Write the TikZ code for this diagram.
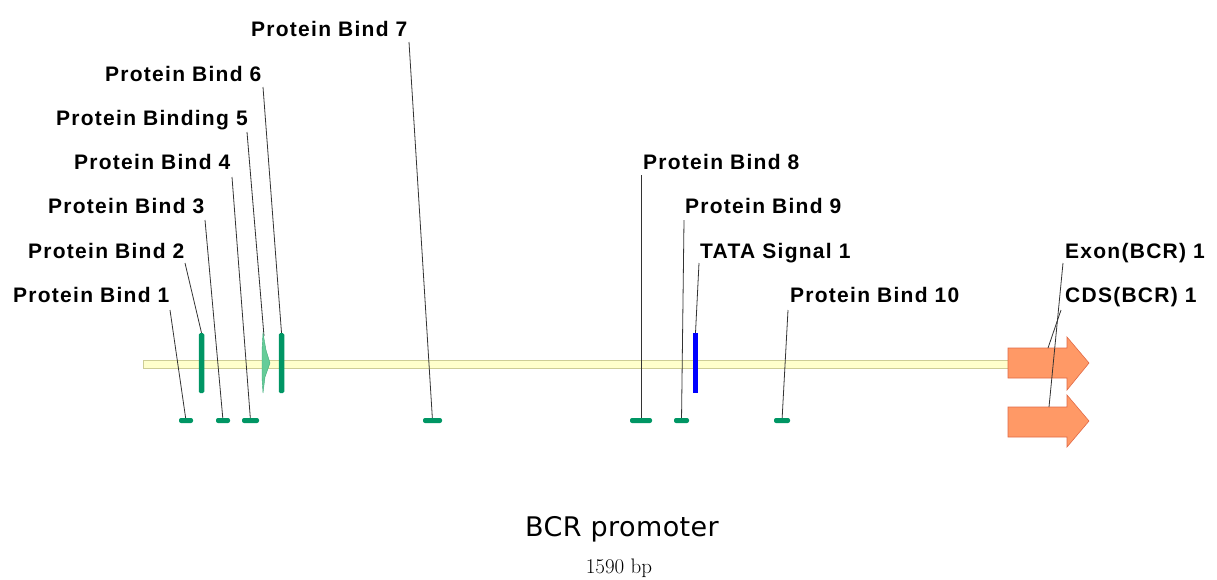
\documentclass[tikz,border=0pt]{standalone}
\usepackage{fontspec}
\usetikzlibrary{backgrounds}
\newfontfamily\labfont{Liberation Sans Bold}[LetterSpace=6]
\newfontfamily\titlefont{DejaVu Sans}[LetterSpace=1.5]
\definecolor{featgreen}{RGB}{0,150,100}
\definecolor{featlight}{RGB}{102,204,153}
\definecolor{featlightedge}{RGB}{60,170,120}
\definecolor{tatablue}{RGB}{0,0,255}
\definecolor{barfill}{RGB}{255,255,204}
\definecolor{baredge}{RGB}{205,205,150}
\definecolor{exonfill}{RGB}{255,153,102}
\definecolor{exonedge}{RGB}{225,105,70}
\pgfdeclarelayer{leaders}
\pgfsetlayers{background,leaders,main}
\tikzset{
  lab/.style={font=\labfont\fontsize{21}{25}\selectfont, anchor=base west, inner sep=0pt},
  vbar/.style={rectangle, fill=featgreen, minimum width=5.5, minimum height=60, inner sep=0pt, rounded corners=1.5},
  site/.style={rectangle, fill=featgreen, minimum height=5, inner sep=0pt, rounded corners=2},
  leader/.style={draw=black!80, line width=0.8pt},
  exonarrow/.style={fill=exonfill, draw=exonedge, line width=0.6pt, line join=miter},
}
\begin{document}
\begin{tikzpicture}[x=1pt, y=-1pt]
\useasboundingbox (0,0) rectangle (1217,579);

% sequence backbone
\begin{pgfonlayer}{background}
  \draw[fill=barfill, draw=baredge, line width=0.6pt] (143,360) rectangle (1010,368);
\end{pgfonlayer}

% feature labels
\node[lab] (l1)  at (13,302)   {Protein Bind 1};
\node[lab] (l2)  at (28,258)   {Protein Bind 2};
\node[lab] (l3)  at (48,213)   {Protein Bind 3};
\node[lab] (l4)  at (74,169)   {Protein Bind 4};
\node[lab] (l5)  at (56,125)   {Protein Binding 5};
\node[lab] (l6)  at (105,81)   {Protein Bind 6};
\node[lab] (l7)  at (251,36)   {Protein Bind 7};
\node[lab] (l8)  at (643,169)  {Protein Bind 8};
\node[lab] (l9)  at (685,213)  {Protein Bind 9};
\node[lab] (lt)  at (700,258)  {TATA Signal 1};
\node[lab] (l10) at (790,302)  {Protein Bind 10};
\node[lab] (le)  at (1065,258) {Exon(BCR) 1};
\node[lab] (lc)  at (1065,302) {CDS(BCR) 1};

% features on the strand
\node[vbar] (b2) at (201.5,363) {};
\node[vbar] (b6) at (281.5,363) {};
\node[vbar, fill=tatablue, rounded corners=0] (bt) at (695.5,363) {};
\draw[fill=featlight, draw=featlightedge, line width=0.4pt]
  (263,333) -- (266,350) -- (270,363) -- (265,377) -- (263,393)
  -- (262,378) -- (262,350) -- cycle;
\coordinate (p5) at (264,336);

% binding sites below the strand
\node[site, minimum width=14] (m1)  at (186,420.5) {};
\node[site, minimum width=14] (m3)  at (223,420.5) {};
\node[site, minimum width=17] (m4)  at (250.5,420.5) {};
\node[site, minimum width=19] (m7)  at (432.5,420.5) {};
\node[site, minimum width=22] (m8)  at (641,420.5) {};
\node[site, minimum width=15] (m9)  at (681.5,420.5) {};
\node[site, minimum width=16] (m10) at (782,420.5) {};

% exon and CDS arrows
\draw[exonarrow] (1008,348) -- (1067,348) -- (1067,337) -- (1089,363)
  -- (1067,390) -- (1067,378) -- (1008,378) -- cycle;
\draw[exonarrow] (1008,407) -- (1067,407) -- (1067,395) -- (1089,421)
  -- (1067,447) -- (1067,437) -- (1008,437) -- cycle;
\coordinate (ex) at (1048,348);
\coordinate (cd) at (1049,407);

% leader line starts
\coordinate (s1)  at (170,310);
\coordinate (s2)  at (185,263);
\coordinate (s3)  at (205,220);
\coordinate (s4)  at (232,177);
\coordinate (s5)  at (247,132);
\coordinate (s6)  at (263,87);
\coordinate (s7)  at (409,42);
\coordinate (s8)  at (641,175);
\coordinate (s9)  at (684,220);
\coordinate (st)  at (699,263);
\coordinate (s10) at (788,310);
\coordinate (se)  at (1063,263);
\coordinate (sc)  at (1061,310);

\begin{pgfonlayer}{leaders}
  \draw[leader] (s1) -- (m1.center);
  \draw[leader] (s2) -- (b2.north);
  \draw[leader] (s3) -- (m3.center);
  \draw[leader] (s4) -- (m4.center);
  \draw[leader] (s5) -- (p5);
  \draw[leader] (s6) -- (b6.north);
  \draw[leader] (s7) -- (m7.center);
  \draw[leader] (s8) -- (m8.center);
  \draw[leader] (s9) -- (m9.center);
  \draw[leader] (st) -- (bt.north);
  \draw[leader] (s10) -- (m10.center);
\end{pgfonlayer}
\draw[leader] (se) -- (cd);
\draw[leader] (sc) -- (ex);

% title and length
\node[font=\titlefont\fontsize{27}{31}\selectfont, anchor=base, inner sep=0pt] (title) at (622,536) {BCR promoter};
\node[font=\fontsize{21}{24}\selectfont\addfontfeatures{Numbers=OldStyle}, anchor=base, inner sep=0pt] (len) at (619,573) {1590 bp};
\end{tikzpicture}
\end{document}
